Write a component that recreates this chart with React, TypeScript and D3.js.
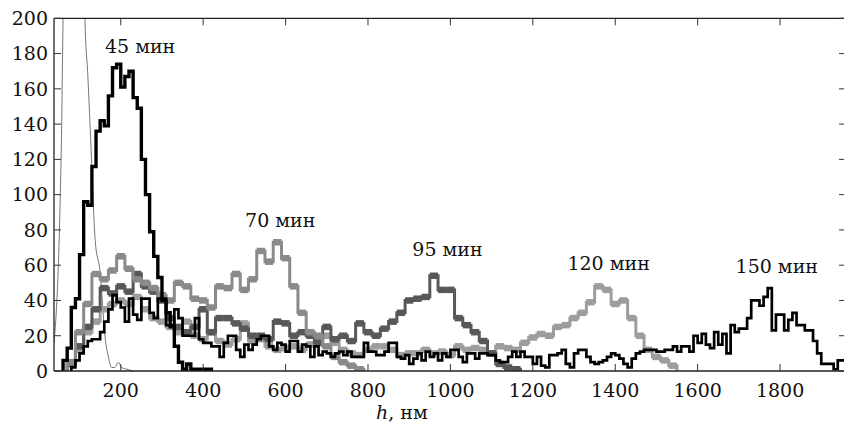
import React from 'react';
import * as d3 from 'd3';

const yTicks = [0, 20, 40, 60, 80, 100, 120, 140, 160, 180, 200];
const xTicks = [200, 400, 600, 800, 1000, 1200, 1400, 1600, 1800];

// 45 min, 10 nm bins from 60 nm
const start45 = 60;
const bin45 = 10;
const v45 = [6, 13, 36, 41, 66, 96, 94, 116, 136, 142, 139, 156, 172, 174, 161, 167, 170, 155, 149, 120, 100, 79, 65, 53, 40, 33, 25, 14, 5, 1, 4, 1, 1, 1, 1, 1];

// 70 min, 20 nm bins from 70 nm
const start70 = 70;
const bin70 = 20;
const v70 = [5, 22, 38, 55, 52, 57, 65, 58, 52, 50, 47, 43, 40, 50, 48, 41, 40, 36, 48, 47, 55, 46, 52, 68, 62, 73, 64, 48, 33, 22, 20, 14, 8, 5, 3, 1];

// 95 min
const start95 = 70;
const bin95 = 20;
const v95 = [4, 14, 25, 35, 47, 44, 48, 45, 55, 48, 45, 40, 30, 25, 22, 25, 35, 22, 30, 30, 27, 24, 20, 20, 18, 28, 27, 20, 22, 20, 16, 25, 18, 20, 17, 27, 22, 20, 24, 28, 33, 40, 41, 42, 54, 46, 46, 30, 26, 22, 17, 10, 4, 2, 1];

// 120 min
const start120 = 70;
const bin120 = 20;
const v120 = [5, 12, 22, 28, 35, 38, 40, 38, 42, 35, 30, 28, 25, 22, 28, 20, 18, 22, 17, 15, 18, 27, 17, 18, 14, 12, 13, 14, 12, 15, 18, 20, 16, 12, 10, 9, 12, 14, 14, 12, 9, 10, 10, 12, 10, 11, 9, 14, 12, 13, 12, 10, 14, 13, 12, 16, 19, 21, 20, 25, 26, 30, 33, 39, 48, 46, 38, 40, 30, 20, 12, 8, 6, 3];

// 150 min, 10 nm bins from 80 nm
const start150 = 80;
const bin150 = 10;
const v150 = [2, 6, 10, 14, 17, 18, 18, 22, 28, 35, 43, 39, 36, 28, 41, 32, 29, 41, 41, 33, 30, 41, 41, 26, 26, 35, 30, 20, 20, 20, 30, 18, 16, 16, 14, 14, 8, 16, 20, 20, 12, 8, 15, 12, 15, 18, 20, 20, 14, 12, 16, 15, 11, 17, 17, 11, 15, 14, 8, 14, 9, 11, 10, 8, 10, 11, 9, 11, 8, 8, 8, 16, 11, 11, 9, 9, 11, 16, 16, 8, 7, 9, 4, 7, 10, 6, 11, 8, 10, 6, 10, 8, 12, 12, 8, 5, 10, 10, 7, 10, 10, 9, 9, 6, 5, 5, 8, 11, 8, 11, 8, 8, 4, 8, 3, 2, 9, 9, 10, 12, 4, 2, 10, 12, 12, 8, 5, 4, 5, 6, 8, 10, 9, 7, 4, 2, 7, 10, 11, 12, 12, 12, 11, 11, 12, 12, 14, 11, 14, 14, 11, 20, 16, 21, 15, 13, 22, 15, 21, 10, 26, 22, 24, 24, 30, 40, 40, 37, 42, 47, 23, 32, 32, 23, 29, 33, 26, 26, 23, 23, 17, 10, 4, 4, 4, 1, 6, 6];

// thin curve (h, value)
const thinH = [38, 45, 50, 53, 56, 60, 63, 110, 113, 120, 126, 138, 150, 162, 170, 178, 186, 194, 202, 215, 230];
const thinV = [16, 40, 70, 97, 130, 200, 240, 240, 200, 168, 137, 74, 56, 19, 8, 2, 2, 5, 2, 1, 0];

const labelText = ['45 мин', '70 мин', '95 мин', '120 мин', '150 мин'];
const labelH = [247, 587, 993, 1384, 1792];
const labelV = [180.3, 81.7, 65.2, 57.3, 55.6];

const W = 844;
const H = 430;
const PL = 54;
const PR = 846;
const PT = 18.3;
const PB = 371;

const x = d3.scaleLinear().domain([38, 1960]).range([PL, PR]);
const y = d3.scaleLinear().domain([0, 200]).range([PB, PT]);

const FONT = "'DejaVu Serif', serif";

function stepPoints(start: number, w: number, vals: number[]): [number, number][] {
  const pts: [number, number][] = [[start, 0]];
  vals.forEach((v, i) => pts.push([start + i * w, v]));
  const end = start + vals.length * w;
  pts.push([end, vals[vals.length - 1]]);
  pts.push([end, 0]);
  return pts;
}

const stepLine = d3
  .line<[number, number]>()
  .x((d) => x(d[0]))
  .y((d) => y(d[1]))
  .curve(d3.curveStepAfter);

function GrayHist({ start, w, vals, color }: { start: number; w: number; vals: number[]; color: string }) {
  const d = stepLine(stepPoints(start, w, vals)) || '';
  return (
    <g>
      <path d={d} fill="none" stroke={color} strokeWidth={3} />
      {vals.map((v, i) => (
        <line
          key={i}
          x1={x(start + i * w)}
          x2={x(start + (i + 1) * w)}
          y1={y(v)}
          y2={y(v)}
          stroke={color}
          strokeWidth={6.5}
        />
      ))}
    </g>
  );
}

function BlackHist({ start, w, vals, width }: { start: number; w: number; vals: number[]; width: number }) {
  const d = stepLine(stepPoints(start, w, vals)) || '';
  return <path d={d} fill="none" stroke="#000" strokeWidth={width} strokeLinejoin="miter" />;
}

export default function App() {
  const thinPts: [number, number][] = thinH.map((h, i) => [h, thinV[i]]);
  const thinLine = d3
    .line<[number, number]>()
    .x((d) => x(d[0]))
    .y((d) => y(d[1]))
    .curve(d3.curveMonotoneX);
  return (
    <svg
      width={W}
      height={H}
      style={{ position: 'absolute', left: 0, top: 0, background: '#fff' }}
      fontFamily={FONT}
    >
      <defs>
        <clipPath id="plot">
          <rect x={PL} y={PT} width={PR - PL} height={PB - PT} />
        </clipPath>
      </defs>
      <g clipPath="url(#plot)">
        <path d={thinLine(thinPts) || ''} fill="none" stroke="#666" strokeWidth={0.9} />
        <GrayHist start={start120} w={bin120} vals={v120} color="#9d9d9d" />
        <GrayHist start={start95} w={bin95} vals={v95} color="#585858" />
        <GrayHist start={start70} w={bin70} vals={v70} color="#8a8a8a" />
        <BlackHist start={start150} w={bin150} vals={v150} width={2.7} />
        <BlackHist start={start45} w={bin45} vals={v45} width={3.4} />
      </g>
      {/* frame */}
      <g stroke="#222" strokeWidth={1.3} fill="none">
        <line x1={PL} x2={PL} y1={PT} y2={PB} />
        <line x1={PL} x2={PR} y1={PB} y2={PB} />
        <line x1={PL} x2={PR} y1={PT} y2={PT} />
        <line x1={PR} x2={PR} y1={PT} y2={PB} />
      </g>
      <g stroke="#333" strokeWidth={1}>
        {yTicks.map((t) => (
          <g key={'y' + t}>
            <line x1={PL} x2={PL + 7} y1={y(t)} y2={y(t)} />
            <line x1={PR} x2={PR - 7} y1={y(t)} y2={y(t)} />
          </g>
        ))}
        {xTicks.map((t) => (
          <g key={'x' + t}>
            <line x1={x(t)} x2={x(t)} y1={PB} y2={PB - 7} />
            <line x1={x(t)} x2={x(t)} y1={PT} y2={PT + 7} />
          </g>
        ))}
      </g>
      <g fill="#111" fontSize={19}>
        {yTicks.map((t) => (
          <text key={'yl' + t} x={48} y={y(t)} dy="0.36em" textAnchor="end">
            {t}
          </text>
        ))}
        {xTicks.map((t) => (
          <text key={'xl' + t} x={x(t)} y={397} textAnchor="middle">
            {t}
          </text>
        ))}
        {labelText.map((s, i) => (
          <text key={s} x={x(labelH[i])} y={y(labelV[i])} textAnchor="middle">
            {s}
          </text>
        ))}
        <text x={376} y={419}>
          <tspan fontStyle="italic">h</tspan>
          <tspan>, нм</tspan>
        </text>
      </g>
    </svg>
  );
}
